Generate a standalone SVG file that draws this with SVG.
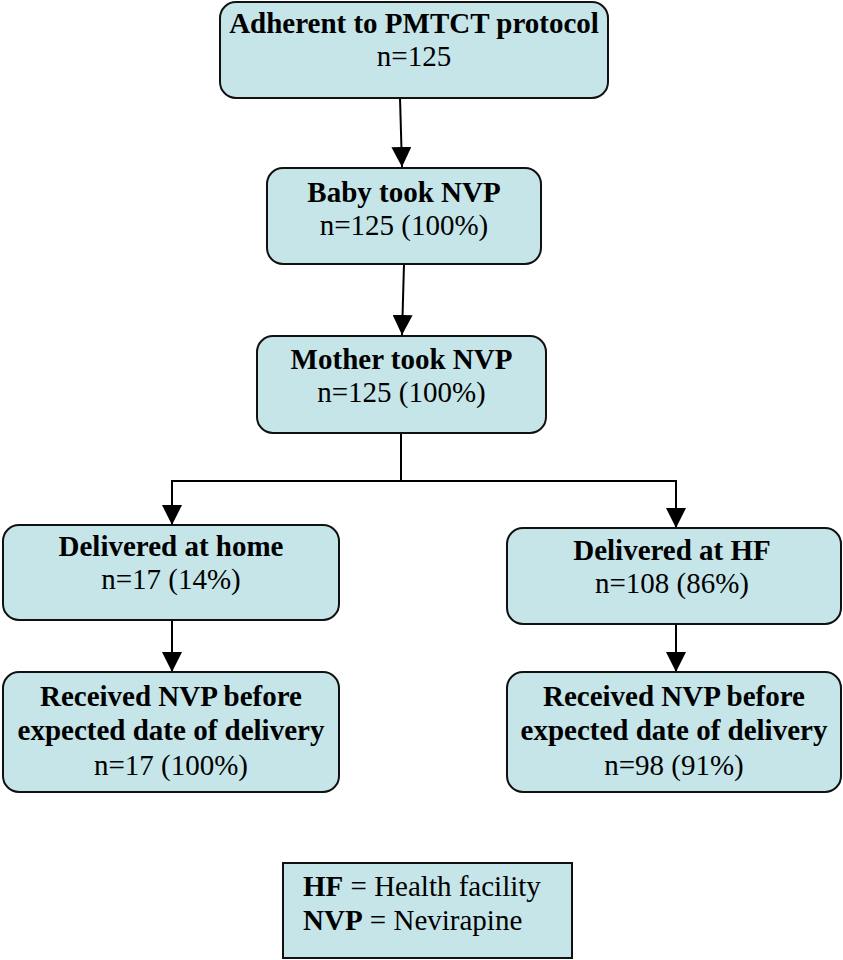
<svg xmlns="http://www.w3.org/2000/svg" width="843" height="960" viewBox="0 0 843 960">
<defs>
<style>
.box{fill:#C5E5E8;stroke:#111;stroke-width:2}
.t{font-family:'Liberation Serif',serif;font-size:29px;fill:#000;text-anchor:middle}
.b{font-weight:bold}
.ln{stroke:#000;stroke-width:2;fill:none}
</style>
<marker id="ah" viewBox="0 0 20 20" refX="20" refY="10" markerWidth="20" markerHeight="20" markerUnits="userSpaceOnUse" orient="auto">
<path d="M0,0 L20,10 L0,20 Z" fill="#000"/>
</marker>
</defs>
<g id="connectors">
<path class="ln" d="M400,98 L402,167" marker-end="url(#ah)"/>
<path class="ln" d="M404,264 L402,335" marker-end="url(#ah)"/>
<path class="ln" d="M401,433 L401,481 L172,481 L172,525" marker-end="url(#ah)"/>
<path class="ln" d="M401,481 L676,481 L676,528" marker-end="url(#ah)"/>
<path class="ln" d="M172,620 L172,672" marker-end="url(#ah)"/>
<path class="ln" d="M676,624 L676,672" marker-end="url(#ah)"/>
</g>
<g id="n1" font-family="Liberation Serif">
<rect class="box" x="220" y="2" width="388" height="96" rx="16"/>
<text class="t b" x="414" y="33">Adherent to PMTCT protocol</text>
<text class="t" x="414" y="66">n=125</text>
</g>
<g id="n2" font-family="Liberation Serif">
<rect class="box" x="267" y="168" width="274" height="96" rx="16"/>
<text class="t b" x="404" y="202">Baby took NVP</text>
<text class="t" x="404" y="235">n=125 (100%)</text>
</g>
<g id="n3" font-family="Liberation Serif">
<rect class="box" x="257" y="336" width="289" height="97" rx="16"/>
<text class="t b" x="401.5" y="369">Mother took NVP</text>
<text class="t" x="401.5" y="402">n=125 (100%)</text>
</g>
<g id="n4" font-family="Liberation Serif">
<rect class="box" x="3" y="525" width="336" height="95" rx="16"/>
<text class="t b" x="171" y="556">Delivered at home</text>
<text class="t" x="171" y="589">n=17 (14%)</text>
</g>
<g id="n5" font-family="Liberation Serif">
<rect class="box" x="507" y="528" width="334" height="96" rx="16"/>
<text class="t b" x="672" y="560">Delivered at HF</text>
<text class="t" x="672" y="593">n=108 (86%)</text>
</g>
<g id="n6" font-family="Liberation Serif">
<rect class="box" x="3" y="672" width="336" height="120" rx="16"/>
<text class="t b" x="171" y="706">Received NVP before</text>
<text class="t b" x="171" y="740">expected date of delivery</text>
<text class="t" x="171" y="775">n=17 (100%)</text>
</g>
<g id="n7" font-family="Liberation Serif">
<rect class="box" x="507" y="672" width="334" height="120" rx="16"/>
<text class="t b" x="674" y="706">Received NVP before</text>
<text class="t b" x="674" y="740">expected date of delivery</text>
<text class="t" x="674" y="775">n=98 (91%)</text>
</g>
<g id="legend" font-family="Liberation Serif">
<rect class="box" x="283" y="863" width="289" height="95"/>
<text class="t" x="303" y="896" style="text-anchor:start"><tspan class="b">HF</tspan> = Health facility</text>
<text class="t" x="303" y="930" style="text-anchor:start"><tspan class="b">NVP</tspan> = Nevirapine</text>
</g>
</svg>
